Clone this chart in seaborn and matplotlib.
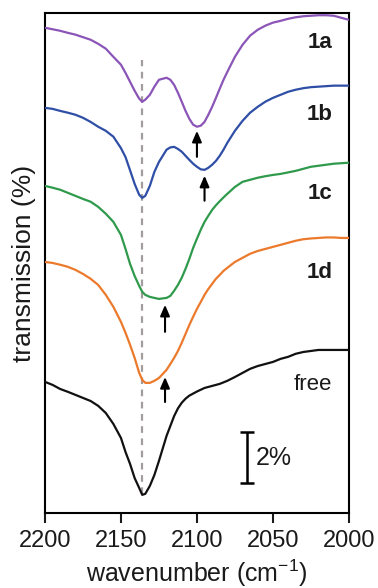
import matplotlib
matplotlib.use('Agg')
import matplotlib.pyplot as plt
import pandas as pd
import seaborn as sns

# IR spectra in the CO stretching region (in %)
wavenumber = [2200, 2195, 2190, 2185, 2180, 2175, 2170, 2165, 2160, 2155, 2150,
              2147, 2144, 2141, 2138, 2136, 2134, 2131, 2128, 2125,
              2120, 2117.5, 2115, 2112.5, 2110, 2107.5, 2105, 2102.5, 2100, 2097.5,
              2095, 2092.5, 2090, 2087.5, 2085, 2082.5, 2080,
              2075, 2070, 2065, 2060, 2055, 2050, 2045, 2040, 2035, 2030, 2025,
              2020, 2015, 2010, 2005, 2000]

t_1a = [19.02, 18.96, 18.90, 18.82, 18.75, 18.65, 18.55, 18.39, 18.20, 17.88, 17.57,
        17.25, 16.90, 16.55, 16.24, 16.12, 16.20, 16.39, 16.71, 16.98,
        17.06, 16.98, 16.78, 16.47, 16.12, 15.76, 15.45, 15.22, 15.14, 15.18,
        15.33, 15.61, 15.92, 16.27, 16.63, 16.98, 17.29,
        17.88, 18.35, 18.71, 18.94, 19.10, 19.22, 19.29, 19.37, 19.43, 19.47, 19.49,
        19.51, 19.51, 19.49, 19.41, 19.33]

t_1b = [15.88, 15.84, 15.76, 15.69, 15.61, 15.49, 15.33, 15.14, 14.98, 14.75, 14.30,
        13.95, 13.43, 12.90, 12.47, 12.35, 12.43, 12.82, 13.37, 13.76,
        14.24, 14.33, 14.35, 14.27, 14.16, 14.00, 13.84, 13.69, 13.57, 13.47,
        13.45, 13.53, 13.65, 13.80, 14.00, 14.24, 14.51,
        14.98, 15.37, 15.69, 15.92, 16.12, 16.27, 16.39, 16.51, 16.59, 16.65, 16.69,
        16.71, 16.73, 16.75, 16.75, 16.75]

t_1c = [12.82, 12.75, 12.67, 12.55, 12.43, 12.31, 12.20, 12.00, 11.73, 11.41, 10.90,
        10.35, 9.76, 9.29, 8.90, 8.67, 8.55, 8.47, 8.43, 8.39,
        8.43, 8.51, 8.71, 8.94, 9.22, 9.57, 9.96, 10.39, 10.75, 11.10,
        11.41, 11.65, 11.88, 12.06, 12.22, 12.37, 12.51,
        12.78, 12.98, 13.06, 13.14, 13.20, 13.25, 13.29, 13.35, 13.41, 13.49, 13.57,
        13.61, 13.65, 13.69, 13.71, 13.73]

t_1d = [9.84, 9.80, 9.73, 9.65, 9.53, 9.37, 9.18, 8.94, 8.55, 8.08, 7.49,
        7.06, 6.59, 6.08, 5.49, 5.22, 5.10, 5.10, 5.18, 5.29,
        5.61, 5.84, 6.08, 6.35, 6.67, 7.02, 7.37, 7.69, 8.00, 8.27,
        8.55, 8.78, 8.98, 9.18, 9.33, 9.49, 9.61,
        9.84, 10.00, 10.16, 10.27, 10.35, 10.43, 10.51, 10.59, 10.67, 10.73, 10.76,
        10.78, 10.80, 10.80, 10.78, 10.78]

t_free = [5.14, 5.02, 4.86, 4.75, 4.63, 4.51, 4.39, 4.20, 3.92, 3.49, 2.94,
          2.39, 1.92, 1.37, 0.98, 0.71, 0.75, 1.06, 1.49, 2.04,
          3.02, 3.41, 3.80, 4.10, 4.32, 4.48, 4.60, 4.68, 4.76, 4.83,
          4.90, 4.94, 4.98, 5.02, 5.06, 5.12, 5.18,
          5.33, 5.49, 5.65, 5.76, 5.84, 5.92, 6.04, 6.12, 6.24, 6.31, 6.35,
          6.39, 6.39, 6.39, 6.39, 6.39]

labels = ['1a', '1b', '1c', '1d', 'free']
colors = ['#8b55b8', '#2f4ea6', '#2f9a4c', '#ec7a2c', '#111111']
label_y = [18.45, 15.61, 12.53, 9.41, 5.05]

# arrows marking the shifted band (position, tail, tip)
arrow_wn = [2100, 2095, 2121, 2121]
arrow_tail = [13.96, 12.24, 7.10, 4.35]
arrow_tip = [14.98, 13.22, 8.16, 5.33]

free_band = 2136

df = pd.DataFrame({'wavenumber': wavenumber, '1a': t_1a, '1b': t_1b,
                   '1c': t_1c, '1d': t_1d, 'free': t_free})

sns.set_style('ticks')
plt.rcParams['font.family'] = ['Liberation Sans', 'DejaVu Sans']
plt.rcParams['text.color'] = '#1a1a1a'
plt.rcParams['axes.labelcolor'] = '#1a1a1a'
plt.rcParams['xtick.color'] = '#1a1a1a'

fig = plt.figure(figsize=(3.78, 5.88), dpi=100)
ax = fig.add_axes([0.119, 0.1276, 0.804, 0.8504])

# dashed line at the free CO band
ax.plot([free_band, free_band], [0.75, 17.76], color='#a39c9c', lw=1.6,
        dashes=(3, 2.5), zorder=1)

for name, c in zip(labels, colors):
    sns.lineplot(data=df, x='wavenumber', y=name, color=c, lw=1.6, ax=ax, zorder=3,
                 solid_joinstyle='round', solid_capstyle='round')

for name, y in zip(labels, label_y):
    if name == 'free':
        ax.text(2024, y, name, fontsize=16, ha='center', va='center')
    else:
        ax.text(2019, y, name, fontsize=16, fontweight='bold', ha='center', va='center')

for x, y0, y1 in zip(arrow_wn, arrow_tail, arrow_tip):
    ax.annotate('', xy=(x, y1), xytext=(x, y0),
                arrowprops=dict(arrowstyle='-|>,head_length=0.65,head_width=0.28',
                                color='black', lw=1.5, shrinkA=0, shrinkB=0))

# 2% scale bar
ax.errorbar([2067], [2.18], yerr=[1.0], color='black', lw=1.8, capsize=5, capthick=1.8)
ax.text(2061, 2.16, '2%', fontsize=18, ha='left', va='center')

ax.set_xlim(2200, 2000)
ax.set_ylim(0, 19.6)
ax.set_xticks([2200, 2150, 2100, 2050, 2000])
ax.set_yticks([])
ax.tick_params(axis='x', direction='out', length=7, width=1.5, labelsize=17, pad=5)
for s in ax.spines.values():
    s.set_visible(True)
    s.set_linewidth(1.5)
    s.set_color('black')
ax.set_xlabel('wavenumber (cm$^{\\mathregular{-1}}$)', fontsize=18)
ax.set_ylabel('transmission (%)', fontsize=19)
ax.xaxis.set_label_coords(0.5, -0.09)
ax.yaxis.set_label_coords(-0.03, 0.5)

fig.savefig('out.png', dpi=100)
